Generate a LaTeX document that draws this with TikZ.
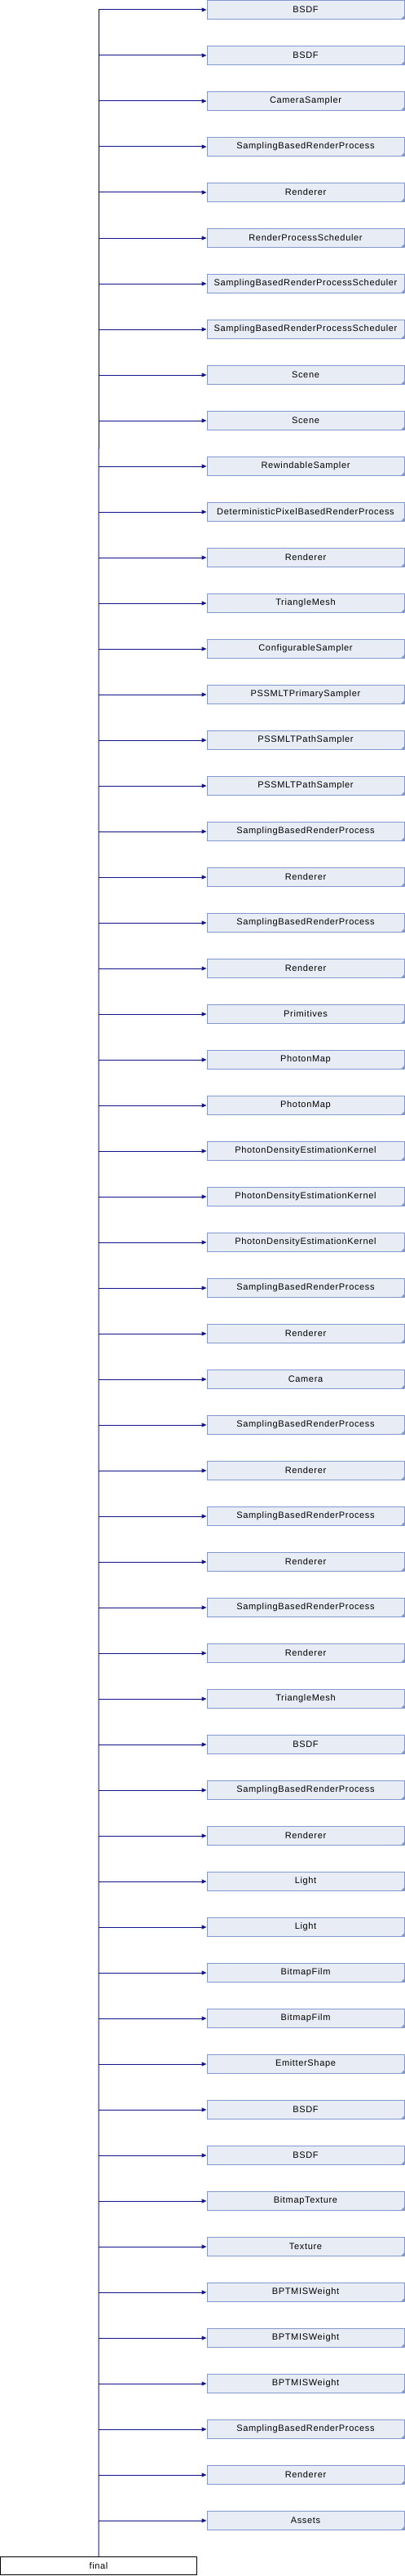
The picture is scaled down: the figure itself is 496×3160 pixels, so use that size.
\documentclass[tikz,border=0pt]{standalone}
\usepackage{fontspec}
\usepackage{xcolor}
\usepackage{tikz}
\usetikzlibrary{arrows.meta,positioning}
\newfontfamily\doxyfont[LetterSpace=6]{Liberation Sans}
\definecolor{doxyfill}{RGB}{232, 236, 245}
\definecolor{doxyborder}{RGB}{132, 152, 206}
\definecolor{doxyarrow}{RGB}{16, 20, 140}

\begin{document}
\begin{tikzpicture}[x=1pt, y=1pt,
    classbox/.style={draw=doxyborder, fill=doxyfill, line width=1pt, minimum width=242pt, minimum height=22.5pt, inner sep=0pt, anchor=west, font=\doxyfont\fontsize{11}{13}\selectfont},
    finalbox/.style={draw=black, fill=white, line width=1pt, minimum width=241pt, minimum height=22.5pt, inner sep=0pt, font=\doxyfont\fontsize{11}{13}\selectfont},
    inherit/.style={draw=doxyarrow, line width=1pt, -{Triangle[length=6pt, width=5pt]}}]
        \useasboundingbox (0, 0) rectangle (496, -3160);
        
        % Derived class
        \node[finalbox] (final) at (121, -3147.5) {final};
        
        % Base classes
        \foreach \cls [count=\i from 0] in {BSDF, BSDF, CameraSampler, SamplingBasedRenderProcess, Renderer,
            RenderProcessScheduler, SamplingBasedRenderProcessScheduler, SamplingBasedRenderProcessScheduler,
            Scene, Scene, RewindableSampler, DeterministicPixelBasedRenderProcess, Renderer, TriangleMesh,
            ConfigurableSampler, PSSMLTPrimarySampler, PSSMLTPathSampler, PSSMLTPathSampler,
            SamplingBasedRenderProcess, Renderer, SamplingBasedRenderProcess, Renderer, Primitives,
            PhotonMap, PhotonMap, PhotonDensityEstimationKernel, PhotonDensityEstimationKernel,
            PhotonDensityEstimationKernel, SamplingBasedRenderProcess, Renderer, Camera,
            SamplingBasedRenderProcess, Renderer, SamplingBasedRenderProcess, Renderer,
            SamplingBasedRenderProcess, Renderer, TriangleMesh, BSDF, SamplingBasedRenderProcess,
            Renderer, Light, Light, BitmapFilm, BitmapFilm, EmitterShape, BSDF, BSDF, BitmapTexture,
            Texture, BPTMISWeight, BPTMISWeight, BPTMISWeight, SamplingBasedRenderProcess, Renderer, Assets} {
            \node[classbox] (base\i) at (253.5, -12-56*\i) {\cls};
            \fill[doxyborder] (base\i.south east) -- ++(-5, 0) -- ++(5, 5) -- cycle;
            \coordinate (trunk\i) at (121.3, -12-56*\i);
            \draw[inherit] (trunk\i) -- (base\i);
        }
        
        % Trunk
        \draw[doxyarrow, line width=1pt] (final.north) -- (trunk0);
    \end{tikzpicture}
\end{document}
